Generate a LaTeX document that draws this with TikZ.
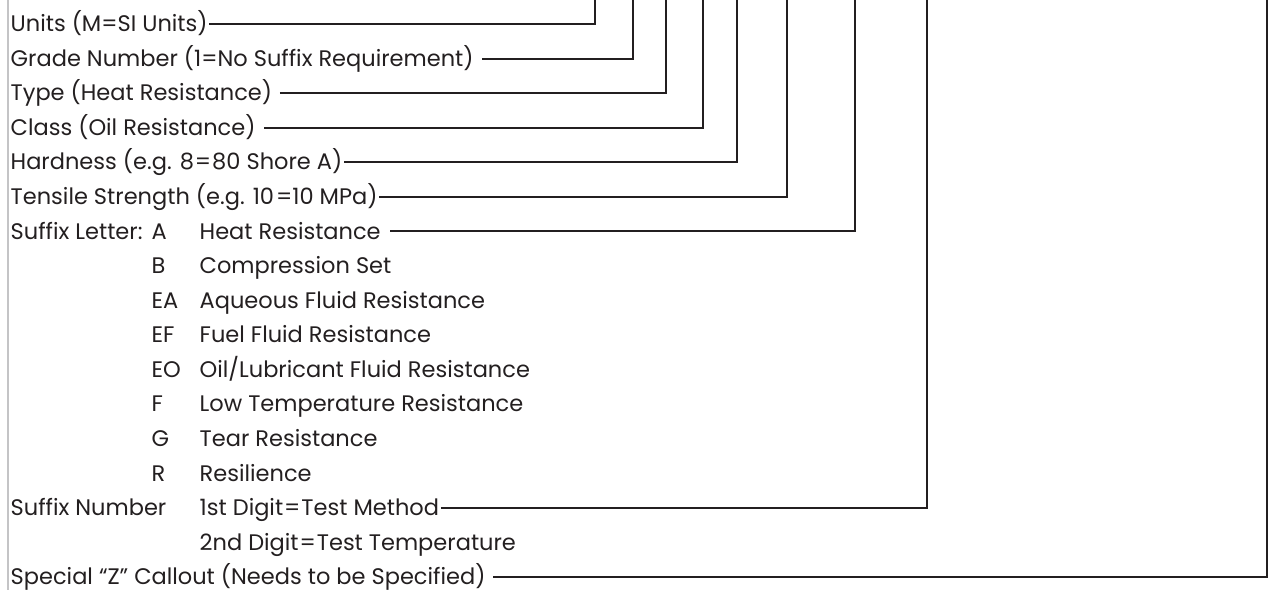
\documentclass[tikz,border=0pt]{standalone}
\usepackage{fontspec}
\setmainfont{Poppins}
\usetikzlibrary{positioning}
\definecolor{leadblack}{RGB}{35,31,32}
\definecolor{railgray}{RGB}{196,196,198}
\tikzset{
  lead/.style={leadblack,line width=2pt},
  rail/.style={railgray,line width=2pt},
  txt/.style={anchor=west,inner xsep=1.5pt,inner ysep=0pt,text height=15.5pt,text depth=0pt,
              font=\fontsize{22.5}{24}\selectfont,text=leadblack},
}

\begin{document}
\begin{tikzpicture}[x=1pt,y=-1pt]
  \path[use as bounding box] (0,0) rectangle (1269,590);

  % grey rail on the left
  \coordinate (railtop) at (7.5,0);
  \coordinate (railbot) at (7.5,590);
  \draw[rail] (railtop) -- (railbot);

  % one lead per field, each going up to the top edge
  \foreach \n/\row/\lab/\xv in {
    units/0/{Units (M=SI Units)}/595,
    grade/1/{Grade Number (1=No Suffix Requirement)\kern7pt}/633,
    type/2/{Type (Heat Resistance)\kern6pt}/666,
    class/3/{Class (Oil Resistance)\kern7pt}/703,
    hard/4/{Hardness (e.g. 8\kern1pt=\kern1pt80 Shore A)}/737,
    tensile/5/{Tensile Strength (e.g. 10\kern2pt=10 MPa)}/787
  }{
    \node[txt] (\n) at (9,{24+34.56*\row}) {\lab};
    \coordinate (\n top) at (\xv,0);
    \draw[lead] (\n.east) -| (\n top);
  }

  % suffix letters
  \node[txt] (letter) at (9,{24+34.56*6}) {Suffix Letter:};
  \foreach \c/\row/\d in {
    A/6/{Heat Resistance\kern8pt},
    B/7/{Compression Set},
    EA/8/{Aqueous Fluid Resistance},
    EF/9/{Fuel Fluid Resistance},
    EO/10/{Oil/Lubricant Fluid Resistance},
    F/11/{Low Temperature Resistance},
    G/12/{Tear Resistance},
    R/13/{Resilience}
  }{
    \node[txt] (code\c) at (150,{24+34.56*\row}) {\c};
    \node[txt] (desc\c) at (198,{24+34.56*\row}) {\d};
  }
  \coordinate (lettertop) at (855,0);
  \draw[lead] (descA.east) -| (lettertop);

  % suffix number
  \node[txt] (sufnum) at (9,{24+34.56*14}) {Suffix Number};
  \node[txt] (digit1) at (198,{24+34.56*14}) {1st Digit\kern1pt=\kern1ptTest Method};
  \node[txt] (digit2) at (198,{24+34.56*15}) {2nd Digit\kern1pt=\kern1ptTest Temperature};
  \coordinate (numtop) at (927,0);
  \draw[lead] (digit1.east) -| (numtop);

  % special callout
  \node[txt] (special) at (9,{24+34.56*16}) {Special “Z” Callout (Needs to be Specified)\kern6pt};
  \coordinate (specialtop) at (1267,0);
  \draw[lead] (special.east) -| (specialtop);
\end{tikzpicture}
\end{document}
